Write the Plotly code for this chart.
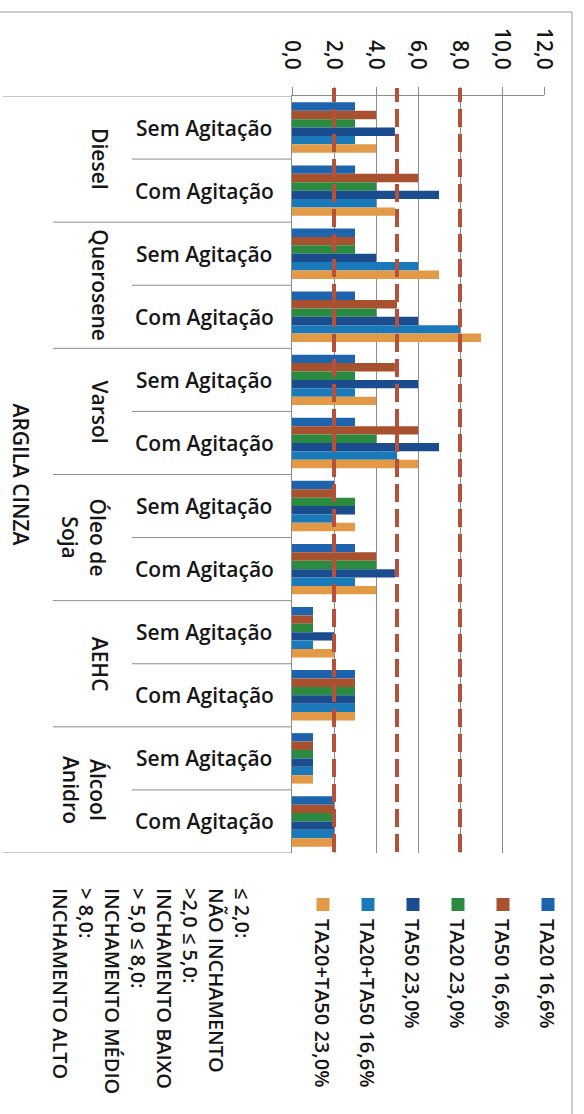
import plotly.graph_objects as go

# Solvents and agitation conditions (category axis, top to bottom)
solvents = ["Diesel", "Querosene", "Varsol", "Óleo de<br>Soja", "AEHC", "Álcool<br>Anidro"]
conditions = ["Sem Agitação", "Com Agitação"]

# Swelling values per series, in category order:
# Diesel S/C, Querosene S/C, Varsol S/C, Óleo de Soja S/C, AEHC S/C, Álcool Anidro S/C
series_names = ["TA20 16,6%", "TA50 16,6%", "TA20 23,0%", "TA50 23,0%",
                "TA20+TA50 16,6%", "TA20+TA50 23,0%"]
ta20_166 = [3.0, 3.0, 3.0, 3.0, 3.0, 3.0, 2.0, 3.0, 1.0, 3.0, 1.0, 2.0]
ta50_166 = [4.0, 6.0, 3.0, 5.0, 4.9, 6.0, 2.0, 4.0, 1.0, 3.0, 1.0, 2.0]
ta20_230 = [3.0, 4.0, 3.0, 4.0, 3.0, 4.0, 3.0, 4.0, 1.0, 3.0, 1.0, 2.0]
ta50_230 = [4.9, 7.0, 4.0, 6.0, 6.0, 7.0, 3.0, 4.9, 2.0, 3.0, 1.0, 2.0]
mix_166 = [3.0, 4.0, 6.0, 8.0, 3.0, 5.0, 2.0, 3.0, 1.0, 3.0, 1.0, 2.0]
mix_230 = [4.0, 4.9, 7.0, 9.0, 4.0, 6.0, 3.0, 4.0, 2.0, 3.0, 1.0, 2.0]
series_values = [ta20_166, ta50_166, ta20_230, ta50_230, mix_166, mix_230]
series_colors = ["#1e63ad", "#a8512f", "#2a8a3f", "#1b4d8e", "#1a79b9", "#e39a47"]

# Classification thresholds and their notes
thresholds = [2.0, 5.0, 8.0]
notes = ["≤ 2,0:", "NÃO INCHAMENTO", ">2,0 ≤ 5,0:", "INCHAMENTO BAIXO",
         "> 5,0 ≤ 8,0:", "INCHAMENTO MÉDIO", "> 8,0:", "INCHAMENTO ALTO"]
axis_title = "ARGILA CINZA"

# Page geometry
W, H = 584, 1114
L, R, T, B = 292, 544, 96, 853
FONT = "Open Sans"
TXT = "#161616"
GRID = "#8c8c8c"
WEIGHT = 600


def px_x(p):
    return (p - L) / (R - L)


def px_y(p):
    return (B - p) / (B - T)


def txt_font(size=21):
    return dict(size=size, family=FONT, color=TXT, weight=WEIGHT)


cats = [f"{s.replace('<br>', ' ')} - {c}" for s in solvents for c in conditions]

fig = go.Figure()
for name, vals, col in zip(series_names, series_values, series_colors):
    fig.add_trace(go.Bar(
        y=cats, x=vals, name=name, orientation="h",
        marker=dict(color=col, line=dict(width=0)),
        showlegend=False,
    ))

fig.update_layout(
    width=W, height=H,
    margin=dict(l=L, r=W - R, t=T, b=H - B, pad=0),
    paper_bgcolor="white", plot_bgcolor="white",
    barmode="group", bargap=0.2, bargroupgap=0.0,
    separators=",.",
    font=txt_font(),
    xaxis=dict(
        side="top", range=[0, 12], dtick=2, tickformat=".1f",
        tickangle=90, tickfont=txt_font(21), ticklabelstandoff=10,
        showgrid=True, gridcolor=GRID, gridwidth=1,
        showline=True, linecolor=GRID, linewidth=1,
        ticks="outside", ticklen=8, tickcolor=GRID,
        zeroline=False, fixedrange=True,
    ),
    yaxis=dict(
        categoryorder="array", categoryarray=cats,
        range=[len(cats) - 0.5, -0.5],
        showticklabels=False, ticks="", showgrid=False,
        showline=True, linecolor=GRID, linewidth=1,
        zeroline=False, fixedrange=True,
    ),
)

shapes = []
annotations = []

# Outer frame (top and right edges)
shapes.append(dict(type="line", xref="paper", yref="paper",
                   x0=px_x(0), x1=px_x(572), y0=px_y(12), y1=px_y(12),
                   line=dict(color="#9a9a9a", width=1)))
shapes.append(dict(type="line", xref="paper", yref="paper",
                   x0=px_x(572), x1=px_x(572), y0=px_y(12), y1=px_y(H),
                   line=dict(color="#9a9a9a", width=1)))

# Category axis dividers
n = len(cats)
for b in range(n + 1):
    pos = b - 0.5
    if b == 0 or b == n:
        x0 = px_x(3)
    elif b % 2 == 0:
        x0 = px_x(53)
    else:
        x0 = px_x(132)
    shapes.append(dict(type="line", xref="paper", yref="y",
                       x0=x0, x1=0, y0=pos, y1=pos,
                       line=dict(color=GRID, width=1)))

# Threshold lines
for t in thresholds:
    shapes.append(dict(type="line", xref="x", yref="paper",
                       x0=t, x1=t, y0=px_y(852), y1=px_y(88),
                       line=dict(color="#b4513b", width=4, dash="18px,7px"),
                       layer="above"))

# Condition labels
for i, c in enumerate(cats):
    annotations.append(dict(xref="paper", yref="y", x=px_x(204), y=c,
                            text=conditions[i % 2], showarrow=False,
                            xanchor="center", yanchor="middle",
                            font=txt_font(21)))

# Solvent labels (rotated)
for k, s in enumerate(solvents):
    xc = 84 if "<br>" in s else 100
    annotations.append(dict(xref="paper", yref="y", x=px_x(xc), y=2 * k + 0.5,
                            text=s, textangle=90, showarrow=False,
                            xanchor="center", yanchor="middle",
                            font=txt_font(21)))

# Category axis title
annotations.append(dict(xref="paper", yref="paper", x=px_x(21), y=0.5,
                        text=axis_title, textangle=90, showarrow=False,
                        xanchor="center", yanchor="middle",
                        font=txt_font(21)))

# Rotated legend
for i, (name, col) in enumerate(zip(series_names, series_colors)):
    xc = 548 - 45 * i
    shapes.append(dict(type="rect", xref="paper", yref="paper",
                       x0=px_x(xc - 6.5), x1=px_x(xc + 6.5),
                       y0=px_y(911), y1=px_y(898),
                       fillcolor=col, line=dict(width=0)))
    annotations.append(dict(xref="paper", yref="paper", x=px_x(xc), y=px_y(917),
                            text=name, textangle=90, showarrow=False,
                            xanchor="center", yanchor="top",
                            font=txt_font(20)))

# Classification notes
annotations.append(dict(xref="paper", yref="paper", x=px_x(152), y=px_y(886),
                        text="<br>".join(notes), textangle=90, showarrow=False,
                        align="left", xanchor="center", yanchor="top",
                        font=txt_font(20)))

fig.update_layout(shapes=shapes, annotations=annotations)
fig.write_html("out.html")
